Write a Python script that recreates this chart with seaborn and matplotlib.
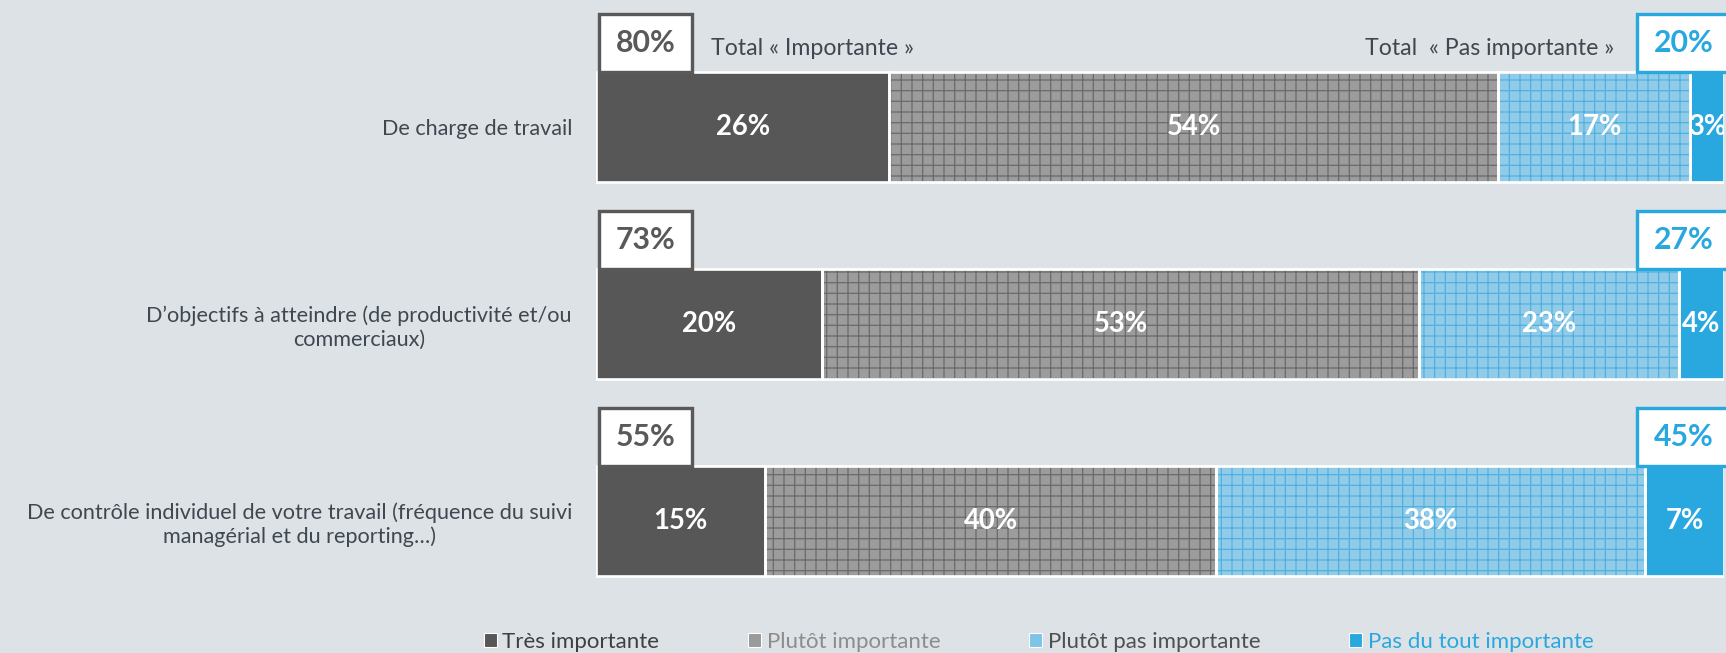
import numpy as np
import matplotlib
matplotlib.use("Agg")
import matplotlib.pyplot as plt
from matplotlib.patches import Rectangle, Patch
import seaborn as sns

# ---- data ----
categories = [
    "De charge de travail",
    "D’objectifs à atteindre (de productivité et/ou\ncommerciaux)",
    "De contrôle individuel de votre travail (fréquence du suivi\nmanagérial et du reporting…)",
]
series = ["Très importante", "Plutôt importante", "Plutôt pas importante", "Pas du tout importante"]
tres = [26, 20, 15]
plutot = [54, 53, 40]
plutot_pas = [17, 23, 38]
pas_du_tout = [3, 4, 7]
total_imp_label = "Total « Importante »"
total_pas_label = "Total  « Pas importante »"

# ---- style ----
BG = "#dde2e6"
fills = ["#575757", "#9c9c9c", "#92cbe8", "#29a8e0"]
hatch_cols = [None, "#6a6a6a", "#4db2e2", None]
legend_cols = ["#575757", "#9a9a9a", "#7fc4e8", "#29a8e0"]
legend_text_cols = ["#3f3f3f", "#8c8c8c", "#4f4f4f", "#29a8e0"]
TXT = "#3f4750"
GREY_BOX = "#595959"
BLUE_BOX = "#29a8e0"

sns.set_theme(style="white")
plt.rcParams["font.family"] = ["Lato", "DejaVu Sans"]
plt.rcParams["hatch.linewidth"] = 0.7

DPI = 128
W, H = 1726, 653
fig = plt.figure(figsize=(W / DPI, H / DPI), dpi=DPI, facecolor=BG)
ax = fig.add_axes([596 / W, 1 - 619.5 / H, 1128 / W, 591 / H])
ax.set_facecolor("none")

BAR_H = 0.558
values = np.array([tres, plutot, plutot_pas, pas_du_tout], dtype=float)
cum = np.cumsum(values, axis=0)
starts = cum - values

# fills: overlapping cumulative bars drawn with seaborn
for k in range(3, -1, -1):
    n0 = len(ax.patches)
    sns.barplot(x=cum[k], y=categories, orient="h", width=BAR_H, saturation=1,
                errorbar=None, color=fills[k], ax=ax)
    for p in ax.patches[n0:]:
        p.set_facecolor(fills[k])
        if hatch_cols[k] is not None:
            p.set_edgecolor(hatch_cols[k])
            p.set_hatch("++")
        else:
            p.set_edgecolor("none")
        p.set_linewidth(0)

ypos = np.arange(len(categories))
# white outlines / separators + labels
for k in range(4):
    outl = ax.barh(ypos, values[k], left=starts[k], height=BAR_H, fill=False,
                   edgecolor="white", linewidth=1.5, zorder=3)
    for i, rect in enumerate(outl.patches):
        t = ax.text(starts[k][i] + values[k][i] / 2, ypos[i], f"{int(values[k][i])}%",
                    ha="center", va="center", color="white", fontsize=15.5,
                    fontweight="bold", zorder=4)
        t.set_clip_on(True)
        t.set_clip_path(rect)

# total boxes
BOX_H = 0.295
tot_imp = values[0] + values[1]
tot_pas = values[2] + values[3]
for i in range(len(categories)):
    top = ypos[i] - BAR_H / 2
    ax.add_patch(Rectangle((0.3, top - BOX_H), 8.2, BOX_H, facecolor="white",
                           edgecolor=GREY_BOX, linewidth=1.9, clip_on=False, zorder=5))
    ax.text(4.4, top - BOX_H / 2, f"{int(tot_imp[i])}%", ha="center", va="center",
            color=GREY_BOX, fontsize=17, fontweight="bold", zorder=6, clip_on=False)
    ax.add_patch(Rectangle((92.3, top - BOX_H), 8.4, BOX_H, facecolor="white",
                           edgecolor=BLUE_BOX, linewidth=1.9, clip_on=False, zorder=5))
    ax.text(96.45, top - BOX_H / 2, f"{int(tot_pas[i])}%", ha="center", va="center",
            color=BLUE_BOX, fontsize=17, fontweight="bold", zorder=6, clip_on=False)

top0 = ypos[0] - BAR_H / 2
ax.text(10.2, top0 - 0.12, total_imp_label, ha="left", va="center", color=TXT,
        fontsize=13, clip_on=False)
ax.text(90.3, top0 - 0.12, total_pas_label, ha="right", va="center", color=TXT,
        fontsize=13, clip_on=False)

# axes cosmetics
ax.set_xlim(0, 100)
ax.set_ylim(len(categories) - 0.5, -0.5)
ax.set_xticks([])
ax.set_xlabel("")
ax.set_ylabel("")
for s in ax.spines.values():
    s.set_visible(False)
ax.tick_params(axis="y", length=0, pad=13.5, labelsize=12.2, labelcolor=TXT)
for lab in ax.get_yticklabels():
    lab.set_multialignment("center")

# legend
handles = [Patch(facecolor=c, edgecolor="white", linewidth=0.6) for c in legend_cols]
fig.legend(handles, series, loc="center left", bbox_to_anchor=(484 / W, 1 - 642 / H),
           ncol=4, frameon=False, fontsize=12.5, handlelength=0.58, handleheight=0.58,
           handletextpad=0.25, columnspacing=4.0, borderpad=0, borderaxespad=0,
           labelcolor=legend_text_cols)

fig.savefig("out.png", dpi=DPI, facecolor=BG)
